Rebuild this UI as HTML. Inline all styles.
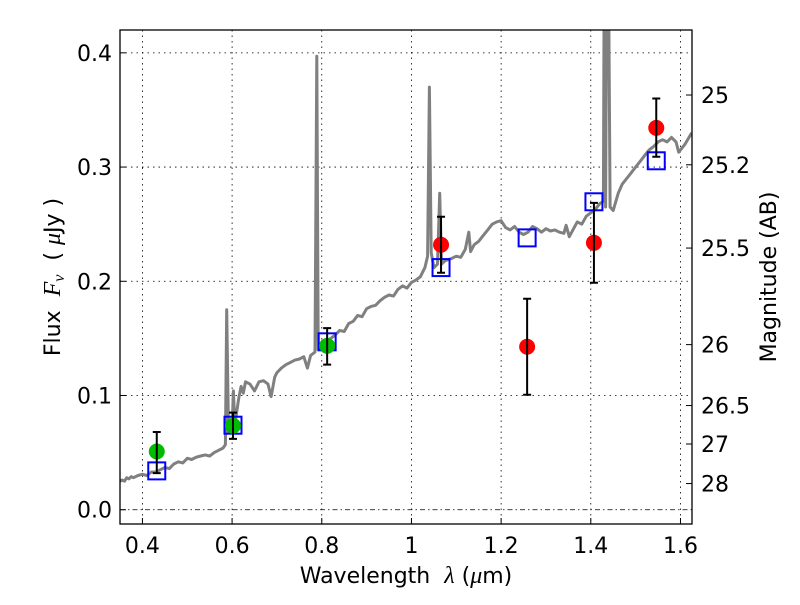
<!DOCTYPE html>
<html><head><meta charset="utf-8"><style>
body{margin:0;background:#fff;}
svg text{font-family:"DejaVu Sans","Liberation Sans",sans-serif;fill:#000;}
</style></head><body>
<svg id="chart" width="800" height="600" viewBox="0 0 800 600" xmlns="http://www.w3.org/2000/svg">
<defs><clipPath id="clip"><rect x="120" y="30" width="572" height="494"/></clipPath></defs>
<rect x="0" y="0" width="800" height="600" fill="#fff"/>
<g id="grid"></g>
<g id="marks" clip-path="url(#clip)"></g>
<rect x="120" y="30" width="572" height="494" fill="none" stroke="#000" stroke-width="1.3"/>
<g id="axes"></g>
<text x="406" y="583" font-size="22" text-anchor="middle">Wavelength&#160;&#160;<tspan font-family="Liberation Serif" font-style="italic" font-size="24">λ</tspan> (<tspan font-family="Liberation Serif" font-style="italic" font-size="24">μ</tspan>m)</text>
<text transform="translate(60,277) rotate(-90)" font-size="22" text-anchor="middle">Flux&#160;&#160;<tspan font-family="Liberation Serif" font-style="italic" font-size="24">F<tspan font-size="16" dy="4">ν</tspan></tspan><tspan dy="-4">&#160;&#160;( </tspan><tspan font-family="Liberation Serif" font-style="italic" font-size="24">μ</tspan>Jy )</text>
<text transform="translate(776,277) rotate(-90)" font-size="22" text-anchor="middle">Magnitude (AB)</text>
</svg>
<script>
const specLam = [0.35,0.355,0.36,0.365,0.37,0.375,0.38,0.39,0.40,0.41,0.42,0.43,0.44,0.45,0.46,0.47,0.48,0.49,0.50,0.51,0.52,0.53,0.54,0.55,0.56,0.57,0.58,0.585,0.588,0.592,0.60,0.603,0.606,0.61,0.615,0.62,0.625,0.63,0.64,0.65,0.66,0.67,0.68,0.687,0.695,0.70,0.71,0.72,0.73,0.74,0.75,0.76,0.768,0.775,0.785,0.789,0.792,0.796,0.80,0.81,0.82,0.83,0.84,0.85,0.86,0.87,0.88,0.89,0.90,0.91,0.92,0.93,0.94,0.95,0.96,0.97,0.98,0.99,1.00,1.01,1.02,1.03,1.036,1.04,1.044,1.05,1.058,1.063,1.067,1.075,1.09,1.10,1.11,1.12,1.128,1.132,1.14,1.15,1.16,1.17,1.18,1.19,1.20,1.21,1.22,1.23,1.24,1.25,1.26,1.27,1.28,1.29,1.30,1.31,1.32,1.33,1.34,1.345,1.352,1.36,1.37,1.38,1.39,1.40,1.41,1.42,1.428,1.430,1.433,1.436,1.439,1.443,1.45,1.461,1.47,1.48,1.49,1.50,1.51,1.52,1.53,1.54,1.55,1.56,1.57,1.58,1.59,1.596,1.61,1.625];
const specFlux = [0.025,0.026,0.025,0.028,0.027,0.029,0.028,0.03,0.031,0.030,0.033,0.033,0.035,0.037,0.036,0.04,0.042,0.041,0.045,0.044,0.046,0.047,0.048,0.047,0.05,0.052,0.054,0.057,0.175,0.068,0.072,0.104,0.075,0.085,0.098,0.108,0.102,0.112,0.110,0.104,0.112,0.113,0.110,0.099,0.116,0.12,0.124,0.127,0.129,0.131,0.132,0.134,0.124,0.135,0.138,0.397,0.14,0.145,0.144,0.147,0.150,0.153,0.157,0.156,0.163,0.165,0.170,0.169,0.176,0.178,0.179,0.183,0.186,0.188,0.187,0.193,0.196,0.194,0.199,0.201,0.204,0.212,0.222,0.37,0.225,0.212,0.215,0.277,0.215,0.218,0.220,0.222,0.221,0.228,0.243,0.226,0.232,0.235,0.24,0.245,0.25,0.252,0.253,0.247,0.245,0.248,0.243,0.241,0.243,0.248,0.246,0.243,0.246,0.244,0.245,0.243,0.242,0.249,0.239,0.245,0.252,0.25,0.257,0.26,0.263,0.268,0.27,0.5,0.265,0.5,0.5,0.265,0.262,0.277,0.285,0.29,0.295,0.30,0.305,0.31,0.315,0.318,0.322,0.324,0.322,0.326,0.322,0.313,0.32,0.33];
const obsLam = [0.432,0.602,0.812,1.066,1.258,1.407,1.546];
const obsFlux = [0.051,0.0735,0.1435,0.232,0.1427,0.2337,0.3343];
const obsErrHi = [0.068,0.085,0.159,0.2565,0.1847,0.2687,0.36];
const obsErrLo = [0.032,0.062,0.127,0.2075,0.1007,0.1987,0.309];
const obsColor = ['#00bb00','#00bb00','#00bb00','#ff0000','#ff0000','#ff0000','#ff0000'];
const modelFlux = [0.034,0.074,0.147,0.212,0.238,0.2696,0.3055];
const xTicks = [0.4,0.6,0.8,1.0,1.2,1.4,1.6];
const xTickLabels = ['0.4','0.6','0.8','1','1.2','1.4','1.6'];
const yTicks = [0.0,0.1,0.2,0.3,0.4];
const yTickLabels = ['0.0','0.1','0.2','0.3','0.4'];
const magTicks = [25,25.2,25.5,26,26.5,27,28];
const magTickLabels = ['25','25.2','25.5','26','26.5','27','28'];

const X0=120,X1=692,Y0=524,Y1=30, xmin=0.35,xmax=1.6257,ymin=-0.0125,ymax=0.42;
const xs=v=>X0+(v-xmin)/(xmax-xmin)*(X1-X0);
const ys=v=>Y0-(v-ymin)/(ymax-ymin)*(Y0-Y1);
const magToFlux=m=>Math.pow(10,(23.9-m)/2.5);
const NS='http://www.w3.org/2000/svg';
function mk(tag,attrs,parent){const e=document.createElementNS(NS,tag);for(const k in attrs)e.setAttribute(k,attrs[k]);parent.appendChild(e);return e;}
const grid=document.getElementById('grid'),marks=document.getElementById('marks'),axes=document.getElementById('axes');

xTicks.forEach((t,i)=>{
  const x=xs(t);
  const g=mk('line',{x1:x,x2:x,y1:Y1,y2:Y0,stroke:'#000','stroke-width':0.8,'stroke-dasharray':'1.5,4'},grid);
  
  
  const tk=mk('line',{x1:x,x2:x,y1:Y0,y2:Y0-6,stroke:'#000','stroke-width':1},axes);
  
  
  const tx=mk('text',{x:x,y:Y0+29,'font-size':22,'text-anchor':'middle'},axes);
  tx.textContent=xTickLabels[i];
  
  
});
yTicks.forEach((t,i)=>{
  const y=ys(t);
  const g=mk('line',{x1:X0,x2:X1,y1:y,y2:y,stroke:'#000','stroke-width':0.8,'stroke-dasharray':i===0?'5,3,1.5,3':'1.5,4'},grid);
  
  
  const tk=mk('line',{x1:X0,x2:X0+6,y1:y,y2:y,stroke:'#000','stroke-width':1},axes);
  
  
  const tx=mk('text',{x:X0-8,y:y+8,'font-size':22,'text-anchor':'end'},axes);
  tx.textContent=yTickLabels[i];
  
  
});
magTicks.forEach((m,i)=>{
  const y=ys(magToFlux(m));
  const tk=mk('line',{x1:X1,x2:X1-6,y1:y,y2:y,stroke:'#000','stroke-width':1},axes);
  
  
  const tx=mk('text',{x:X1+9,y:y+8,'font-size':22,'text-anchor':'start'},axes);
  tx.textContent=magTickLabels[i];
  
  
});

const pts=specLam.map((l,i)=>xs(l).toFixed(1)+','+ys(specFlux[i]).toFixed(1)).join(' ');
const sp=mk('polyline',{points:pts,fill:'none',stroke:'#808080','stroke-width':3,'stroke-linejoin':'round'},marks);



obsLam.forEach((l,i)=>{
  const x=xs(l);
  const sq=mk('rect',{x:x-8.5,y:ys(modelFlux[i])-8.5,width:17,height:17,fill:'none',stroke:'#0000ff','stroke-width':2},marks);
  
  
});
obsLam.forEach((l,i)=>{
  const x=xs(l);
  const c=mk('circle',{cx:x,cy:ys(obsFlux[i]),r:8,fill:obsColor[i]},marks);
  
  
  const e=mk('path',{d:`M${x},${ys(obsErrHi[i])}V${ys(obsErrLo[i])}M${x-4},${ys(obsErrHi[i])}H${x+4}M${x-4},${ys(obsErrLo[i])}H${x+4}`,stroke:'#000','stroke-width':2,fill:'none'},marks);
  
  
});
</script>
</body></html>
